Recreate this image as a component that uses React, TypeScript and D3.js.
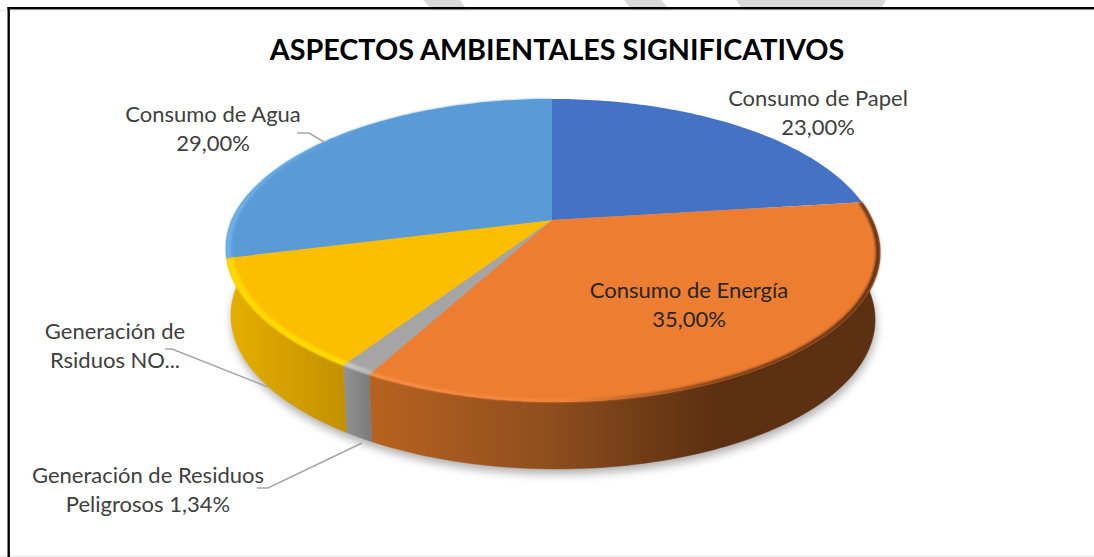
import React from "react";
import * as d3 from "d3";

const categories = [
  "Consumo de Papel",
  "Consumo de Energía",
  "Generación de Residuos Peligrosos",
  "Generación de Rsiduos NO Peligrosos",
  "Consumo de Agua",
];
const values = [23, 35, 1.34, 11.66, 29];
const topColors = ["#4472C4", "#ED7D31", "#A5A5A5", "#FBBF00", "#5B9BD5"];
const titleText = "ASPECTOS AMBIENTALES SIGNIFICATIVOS";

const sideStops: [number, string][][] = [
  [[0, "#2a4578"], [1, "#2a4578"]],
  [[0, "#B8621F"], [0.35, "#8F4E1E"], [0.55, "#6E3B16"], [0.68, "#5C3012"], [1, "#5C3012"]],
  [[0, "#929292"], [1, "#7A7A7A"]],
  [[0, "#E6B000"], [1, "#C49000"]],
  [[0, "#5B9BD5"], [1, "#5B9BD5"]],
];
const rimStops: [number, string][][] = [
  [[0, "#4472C4"], [1, "#4472C4"]],
  [[0, "#F8924C"], [0.38, "#F28638"], [0.55, "#A85A22"], [0.68, "#6A3814"], [1, "#5C3012"]],
  [[0, "#CFCFCF"], [1, "#B5B5B5"]],
  [[0, "#FFD900"], [1, "#FFDC00"]],
  [[0, "#6DB3F0"], [0.5, "#5B9BD5"], [1, "#5B9BD5"]],
];
const rimInner = [1, 0.988, 0.98, 0.98, 0.985];

const labels = [
  { lines: ["Consumo de Papel", "23,00%"], x: 818, y: 106, fill: "#404040" },
  { lines: ["Consumo de Energía", "35,00%"], x: 689, y: 298, fill: "#262626" },
  { lines: ["Generación de Residuos", "Peligrosos 1,34%"], x: 148, y: 483, fill: "#404040" },
  { lines: ["Generación de", "Rsiduos NO..."], x: 115, y: 339, fill: "#404040" },
  { lines: ["Consumo de Agua", "29,00%"], x: 213, y: 122, fill: "#404040" },
];
const leaders: [number, number][][] = [
  [[297, 133], [309, 133], [324, 142]],
  [[165, 349], [172, 349], [268, 387]],
  [[257, 488], [268, 488], [362, 443]],
];
const watermark: [number, number][][] = [
  [[423, 0], [460, 0], [467, 10], [433, 10]],
  [[624, 0], [661, 0], [670, 10], [632, 10]],
  [[736, 0], [886, 0], [880, 10], [743, 10]],
];

const CX = 552, CY = 220, K = -0.201, A = 320.3, B = 145.4, SHEAR = 5;
const DEPTH = 67, BOTTOM_SCALE = 0.985;
const SIDE_EXTRA = 0.45; // yellow wall wraps round the left silhouette

const project = (theta: number, r = 1): [number, number] => {
  const x = r * Math.sin(theta), y = -r * Math.cos(theta);
  const w = 1 + K * y;
  return [CX + (A * x) / w + SHEAR * Math.max(y, 0), CY + (B * y) / w];
};
const projectBottom = (theta: number): [number, number] => {
  const [x, y] = project(theta);
  return [CX + (x - CX) * BOTTOM_SCALE, y + DEPTH];
};
const samples = (a: number, b: number) => {
  const n = Math.max(2, Math.ceil((b - a) / 0.02));
  return d3.range(n + 1).map((i) => a + ((b - a) * i) / n);
};
const poly = d3.line<[number, number]>();

export default function App() {
  const arcs = d3.pie<number>().sort(null).value((d) => d)(values);
  const slices = arcs.map((a, i) => {
    const ts = samples(a.startAngle, a.endAngle);
    const sideTs = samples(a.startAngle, a.endAngle + (i === 3 ? SIDE_EXTRA : 0));
    const rim = ts.map((t) => project(t));
    const sideRim = sideTs.map((t) => project(t));
    const bottom = sideTs.map(projectBottom);
    const inner = ts.map((t) => project(t, rimInner[i]));
    const all = [...sideRim, ...bottom];
    const x0 = d3.min(all, (p) => p[0])!;
    const x1 = d3.max(all, (p) => p[0])!;
    return {
      i,
      x0,
      x1,
      top: poly([[CX, CY], ...rim])! + "Z",
      side: poly([...sideRim, ...bottom.slice().reverse()])! + "Z",
      bevel: poly([...rim, ...inner.slice().reverse()])! + "Z",
    };
  });
  const walls = slices.filter((s) => s.i >= 1 && s.i <= 3);
  const shadow = poly(samples(0, Math.PI * 2).map(projectBottom))! + "Z";
  const stops = (list: [number, string][]) =>
    list.map(([o, c], j) => <stop key={j} offset={o} stopColor={c} />);

  return (
    <svg
      width={1094}
      height={557}
      style={{ position: "fixed", left: 0, top: 0, display: "block", background: "#fff" }}
      fontFamily="Lato, 'Open Sans', sans-serif"
    >
      <defs>
        <filter id="sh" x="-10%" y="-20%" width="120%" height="140%">
          <feGaussianBlur stdDeviation="5" />
        </filter>
        <filter id="soft" x="-5%" y="-5%" width="110%" height="110%">
          <feGaussianBlur stdDeviation="0.9" />
        </filter>
        {slices.map((s) => (
          <linearGradient key={s.i} id={`side${s.i}`} gradientUnits="userSpaceOnUse" x1={s.x0} x2={s.x1} y1={0} y2={0}>
            {stops(sideStops[s.i])}
          </linearGradient>
        ))}
        {slices.map((s) => (
          <linearGradient key={s.i} id={`rim${s.i}`} gradientUnits="userSpaceOnUse" x1={s.x0} x2={s.x1} y1={0} y2={0}>
            {stops(rimStops[s.i])}
          </linearGradient>
        ))}
      </defs>

      {watermark.map((w, i) => (
        <path key={i} d={poly(w)! + "Z"} fill="#D9D9D9" />
      ))}
      <rect x={0} y={9.5} width={1094} height={1.5} fill="#EDEDED" />
      <rect x={0} y={555.5} width={1094} height={1.5} fill="#EFEFEF" />
      <rect x={7.5} y={7} width={1087} height={2.4} fill="#000" />
      <rect x={7.5} y={7} width={2.4} height={550} fill="#000" />

      <path d={shadow} fill="#000" opacity={0.32} filter="url(#sh)" transform="translate(1,5)" />

      {walls.map((s) => (
        <path key={s.i} d={s.side} fill={`url(#side${s.i})`} stroke={`url(#side${s.i})`} strokeWidth={0.5} />
      ))}
      {slices.map((s) => (
        <path key={s.i} d={s.top} fill={topColors[s.i]} />
      ))}
      {[...walls, slices[4]].map((s) => (
        <path key={s.i} d={s.bevel} fill={`url(#rim${s.i})`} filter="url(#soft)" />
      ))}

      <text x={557} y={60} textAnchor="middle" fontSize={28.75} fontWeight={700} fill="#000">
        {titleText}
      </text>

      {leaders.map((l, i) => (
        <path key={i} d={poly(l)!} fill="none" stroke="#A6A6A6" strokeWidth={1.5} />
      ))}

      {labels.map((l, i) => (
        <text key={i} textAnchor="middle" fontSize={22} fill={l.fill} aria-label={categories[i]}>
          {l.lines.map((t, j) => (
            <tspan key={j} x={l.x} y={l.y + j * 28.5}>
              {t}
            </tspan>
          ))}
        </text>
      ))}
    </svg>
  );
}
